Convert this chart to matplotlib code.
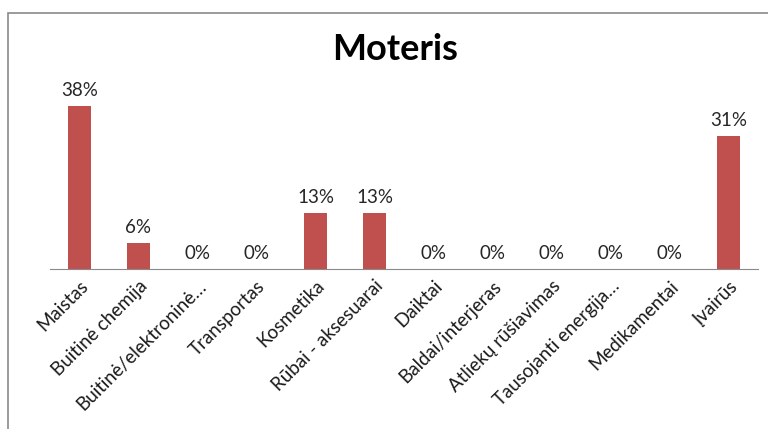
import matplotlib
matplotlib.use("Agg")
import matplotlib.pyplot as plt
from matplotlib.patches import Rectangle

plt.rcParams['font.family'] = ['Lato', 'DejaVu Sans']

categories = ["Maistas", "Buitinė chemija", "Buitinė/elektroninė…", "Transportas",
              "Kosmetika", "Rūbai - aksesuarai", "Daiktai", "Baldai/interjeras",
              "Atliekų rūšiavimas", "Tausojanti energija…", "Medikamentai", "Įvairūs"]
values = [38, 6, 0, 0, 13, 13, 0, 0, 0, 0, 0, 31]
value_labels = ["38%", "6%", "0%", "0%", "13%", "13%", "0%", "0%", "0%", "0%", "0%", "31%"]

W, H = 768, 429
fig = plt.figure(figsize=(W / 100, H / 100), dpi=100)

# chart area border (cut off at right and bottom like the screenshot)
fig.patches.append(Rectangle((8 / W, -0.05), 1.0, 1 - 13 / H + 0.05,
                             transform=fig.transFigure, fill=False,
                             edgecolor="#8a8a8a", linewidth=1.2))

ax = fig.add_axes([50 / W, 160 / H, 708 / W, (269 - 76) / H])
x = range(len(categories))
bars = ax.bar(x, values, width=0.4, color="#C0504D")
ax.set_xlim(-0.5, len(categories) - 0.5)
ax.set_ylim(0, 45)

for b, lab in zip(bars, value_labels):
    ax.annotate(lab, (b.get_x() + b.get_width() / 2, b.get_height()),
                xytext=(0, 5), textcoords="offset points",
                ha="center", va="bottom", fontsize=13.5, color="#262626")

ax.set_xticks(list(x))
ax.set_xticklabels(categories, rotation=45, ha="right", rotation_mode="anchor",
                   fontsize=13.5, color="#1a1a1a")
ax.tick_params(axis="x", length=0, pad=6)
ax.set_yticks([])
for s in ["top", "right", "left"]:
    ax.spines[s].set_visible(False)
ax.spines["bottom"].set_color("#8a8a8a")

fig.text(395 / W, 1 - 50 / H, "Moteris", ha="center", va="center",
         fontsize=26, fontweight="bold")

fig.savefig("out.png", dpi=100)
